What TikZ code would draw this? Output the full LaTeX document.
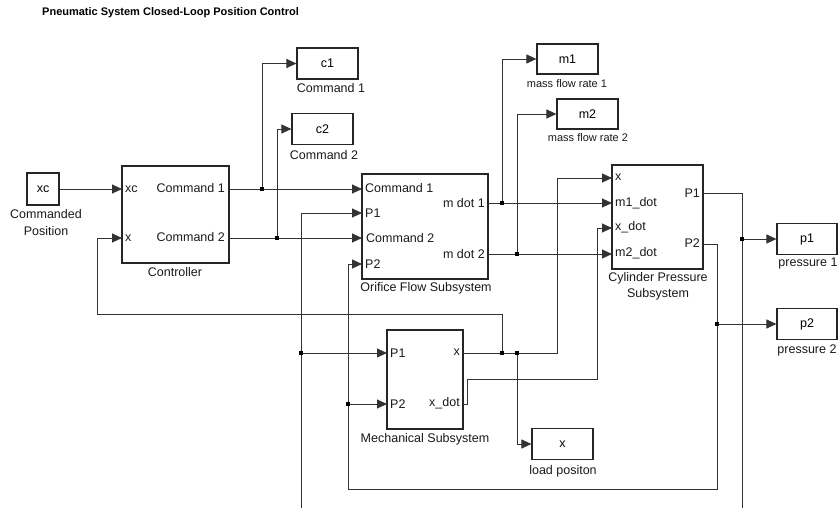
\documentclass[tikz,border=0pt]{standalone}
\usepackage{fontspec}
\setmainfont{Liberation Sans}
\usetikzlibrary{arrows.meta}
\begin{document}
\begin{tikzpicture}[x=1pt,y=-1pt,
  blk/.style={draw=black!85, line width=1.1pt, inner sep=0pt, rectangle, font=\fontsize{12.5}{15}\selectfont},
  wire/.style={draw=black!80, line width=0.9pt},
  arr/.style={wire, -{Triangle[length=10pt,width=9pt]}},
  lbl/.style={inner sep=0pt, font=\fontsize{12.5}{16.5}\selectfont, text=black!90},
  slbl/.style={inner sep=0pt, font=\fontsize{11}{13}\selectfont, text=black!90},
  jdot/.style={fill=black, rectangle, minimum size=3.5pt, inner sep=0pt}
]
\useasboundingbox (0,0) rectangle (840,508);
% title
\node[anchor=west, inner sep=0pt, font=\fontsize{11}{13}\selectfont\bfseries] (title) at (42,13) {Pneumatic System Closed-Loop Position Control};

% blocks
\node[blk, minimum width=32pt, minimum height=32pt] (xc) at (43,189) {xc};
\node[blk, minimum width=107pt, minimum height=97pt] (ctrl) at (175.5,214.5) {};
\node[blk, minimum width=126pt, minimum height=105pt] (orif) at (425,226.5) {};
\node[blk, minimum width=91pt, minimum height=104pt] (cyl) at (657.5,217) {};
\node[blk, minimum width=76pt, minimum height=99pt] (mech) at (425,379.5) {};
\node[blk, minimum width=61pt, minimum height=31pt] (load) at (562.5,444) {x};
\node[blk, minimum width=61pt, minimum height=31pt] (c1) at (327.5,63.5) {c1};
\node[blk, minimum width=61pt, minimum height=31pt] (c2) at (322.5,129) {c2};
\node[blk, minimum width=61pt, minimum height=30pt] (m1) at (567.5,59) {m1};
\node[blk, minimum width=61pt, minimum height=30pt] (m2) at (587.5,114) {m2};
\node[blk, minimum width=60pt, minimum height=31pt] (p1) at (807,239) {p1};
\node[blk, minimum width=60pt, minimum height=31pt] (p2) at (807,324) {p2};

% block labels
\node[lbl, align=center] (xclbl) at (46,222.5) {Commanded\\Position};
\node[lbl] (ctrllbl) at (175,272) {Controller};
\node[lbl] (oriflbl) at (426,288) {Orifice Flow Subsystem};
\node[lbl, align=center] (cyllbl) at (658,286.5) {Cylinder Pressure\\Subsystem};
\node[lbl] (mechlbl) at (425,439) {Mechanical Subsystem};
\node[lbl] (loadlbl) at (563,471) {load positon};
\node[lbl] (c1lbl) at (331,88) {Command 1};
\node[lbl] (c2lbl) at (324,155) {Command 2};
\node[slbl] (m1lbl) at (567,84) {mass flow rate 1};
\node[slbl] (m2lbl) at (588,138) {mass flow rate 2};
\node[lbl] (p1lbl) at (808,263) {pressure 1};
\node[lbl] (p2lbl) at (807,350) {pressure 2};

% port coordinates
\coordinate (ctrl-xc) at (122,189);
\coordinate (ctrl-x)  at (122,238);
\coordinate (ctrl-c1) at (229,189);
\coordinate (ctrl-c2) at (229,238);
\coordinate (orif-c1) at (362,189);
\coordinate (orif-p1) at (362,213);
\coordinate (orif-c2) at (362,238);
\coordinate (orif-p2) at (362,264);
\coordinate (orif-m1) at (488,203);
\coordinate (orif-m2) at (488,254);
\coordinate (cyl-x)  at (612,178);
\coordinate (cyl-m1) at (612,203);
\coordinate (cyl-xd) at (612,228);
\coordinate (cyl-m2) at (612,254);
\coordinate (cyl-P1) at (703,193);
\coordinate (cyl-P2) at (703,244);
\coordinate (mech-p1) at (387,353);
\coordinate (mech-p2) at (387,404);
\coordinate (mech-x)  at (463,353);
\coordinate (mech-xd) at (463,404);

% port labels
\node[lbl, anchor=west] (t1) at (125,189) {xc};
\node[lbl, anchor=west] (t2) at (125,238) {x};
\node[lbl, anchor=east] (t3) at (225,188) {Command 1};
\node[lbl, anchor=east] (t4) at (225,237) {Command 2};
\node[lbl, anchor=west] (t5) at (365,188) {Command 1};
\node[lbl, anchor=west] (t6) at (365,213) {P1};
\node[lbl, anchor=west] (t7) at (366,238) {Command 2};
\node[lbl, anchor=west] (t8) at (365,264) {P2};
\node[lbl, anchor=east] (t9) at (485,203) {m dot 1};
\node[lbl, anchor=east] (t10) at (485,254) {m dot 2};
\node[lbl, anchor=west] (t11) at (615,177) {x};
\node[lbl, anchor=west] (t12) at (615,203) {m1\_dot};
\node[lbl, anchor=west] (t13) at (615,227) {x\_dot};
\node[lbl, anchor=west] (t14) at (615,253) {m2\_dot};
\node[lbl, anchor=east] (t15) at (700,193) {P1};
\node[lbl, anchor=east] (t16) at (700,243) {P2};
\node[lbl, anchor=west] (t17) at (390,353) {P1};
\node[lbl, anchor=west] (t18) at (390,404) {P2};
\node[lbl, anchor=east] (t19) at (460,352) {x};
\node[lbl, anchor=east] (t20) at (460,403) {x\_dot};

% branch points and corners
\coordinate (b1) at (262,189);
\coordinate (b2) at (277,238);
\coordinate (b3) at (502,203);
\coordinate (b4) at (517,254);
\coordinate (b5) at (742,239);
\coordinate (b6) at (717,324);
\coordinate (b7) at (301,353);
\coordinate (b8) at (348,404);
\coordinate (b9) at (502,353);
\coordinate (b10) at (517,353);
\coordinate (botR) at (742,508);
\coordinate (botL) at (301,508);
\coordinate (p2corner) at (717,489);
\coordinate (p2left) at (348,489);
\coordinate (xcorner) at (557,178);
\coordinate (fb2) at (97,314);
\coordinate (xd1) at (467,379);
\coordinate (xd2) at (597,379);

% wires
\draw[arr] (xc.east) -- (ctrl-xc);
\draw[arr] (ctrl-c1) -- (orif-c1);
\draw[arr] (b1) |- (c1.west);
\draw[arr] (ctrl-c2) -- (orif-c2);
\draw[arr] (b2) |- (c2.west);
\draw[arr] (orif-m1) -- (cyl-m1);
\draw[arr] (b3) |- (m1.west);
\draw[arr] (orif-m2) -- (cyl-m2);
\draw[arr] (b4) |- (m2.west);
\draw[wire] (cyl-P1) -| (botR);
\draw[arr] (b5) -- (p1.west);
\draw[arr] (botL) |- (orif-p1);
\draw[arr] (b7) -- (mech-p1);
\draw[arr] (cyl-P2) -| (p2corner) -- (p2left) |- (orif-p2);
\draw[arr] (b6) -- (p2.west);
\draw[arr] (b8) -- (mech-p2);
\draw[arr] (mech-x) -| (xcorner) -- (cyl-x);
\draw[arr] (b9) |- (fb2) |- (ctrl-x);
\draw[arr] (b10) |- (load.west);
\draw[arr] (mech-xd) -| (xd1) -- (xd2) |- (cyl-xd);

% junction dots
\foreach \b in {b1,b2,b3,b4,b5,b6,b7,b8,b9,b10}
  \node[jdot] at (\b) {};
\end{tikzpicture}
\end{document}
